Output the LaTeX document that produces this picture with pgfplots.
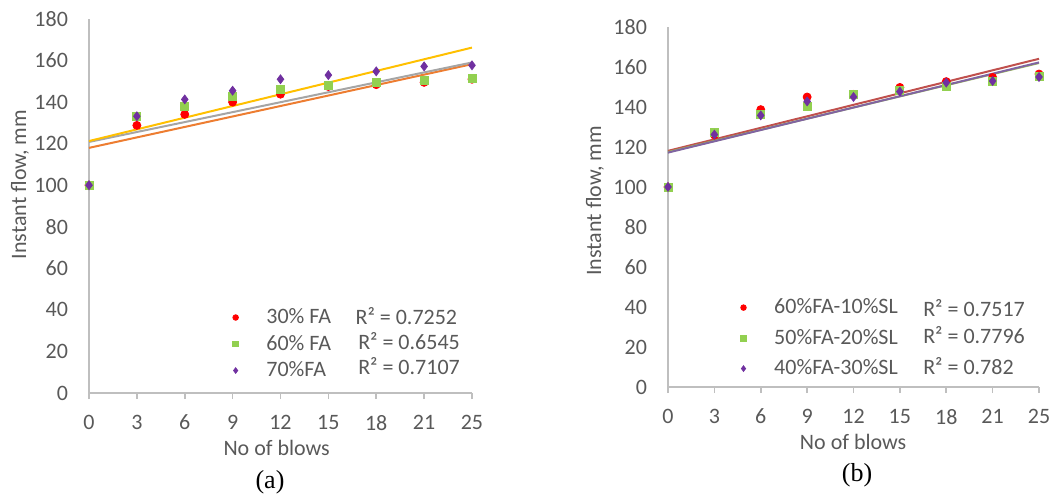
\documentclass[border=0pt]{standalone}
\usepackage{pgfplots}
\usepackage{pgfplotstable}
\pgfplotsset{compat=1.18}
\usepackage{fontspec}
\setmainfont{Carlito}
\newfontfamily\capfont{Liberation Serif}
\definecolor{txt}{HTML}{595959}
\definecolor{axl}{HTML}{BFBFBF}
\definecolor{mRed}{HTML}{FF0000}
\definecolor{mGreen}{HTML}{92D050}
\definecolor{mPurple}{HTML}{7030A0}
\definecolor{tOrange}{HTML}{ED7D31}
\definecolor{tGray}{HTML}{A5A5A5}
\definecolor{tYellow}{HTML}{FFC000}
\definecolor{tRed}{HTML}{C0504D}
\definecolor{tGreen}{HTML}{9BBB59}
\definecolor{tPurple}{HTML}{8064A2}

% x = category index (0..8), labels 0,3,...,21,25
\pgfplotstableread{
x  a      b      c
0  100.0  100.0  100.0
1  128.8  133.3  133.2
2  134.1  137.8  141.3
3  140.0  142.8  145.5
4  143.8  146.0  151.0
5  147.5  147.9  153.0
6  148.4  149.7  154.8
7  149.5  150.5  157.2
8  151.0  151.6  157.7
}\dataA
\pgfplotstableread{
x  a      b      c
0  100.0  100.0  100.0
1  126.0  127.5  126.2
2  138.7  136.2  135.8
3  145.0  140.5  142.8
4  146.3  146.2  145.0
5  149.8  148.5  147.7
6  152.7  150.5  152.2
7  154.8  153.0  153.0
8  156.5  155.2  155.0
}\dataB

\tikzset{rsq/.style={anchor=west, inner sep=0pt, text=txt, font=\fontsize{11}{13}\selectfont}}
\pgfplotsset{
  flowstyle/.style={
    scale only axis,
    xmin=0, xmax=8, ymin=0, ymax=180,
    axis lines=left,
    axis line style={draw=axl, line width=0.9pt, -},
    xtick={0,...,8},
    xticklabels={0,3,6,9,12,15,18,21,25},
    ytick={0,20,...,180},
    tick align=outside,
    major tick length=3pt,
    xtick style={draw=axl, line width=0.8pt},
    ytick style={draw=none},
    tick label style={font=\fontsize{11}{13}\selectfont, color=txt},
    xticklabel style={yshift=-4.5pt},
    yticklabel style={xshift=-4pt},
    /pgf/number format/assume math mode=true,
    label style={font=\fontsize{11}{13}\selectfont, color=txt},
    xlabel={No of blows},
    ylabel={Instant flow, mm},
    legend style={draw=none, fill=none, font=\fontsize{11}{13}\selectfont,
      text=txt, inner sep=0pt, row sep=1.25pt,
      nodes={inner sep=1.5pt, anchor=west}},
    legend cell align=left,
    legend image code/.code={\draw[##1, mark size=1.4pt] plot coordinates {(0cm,0cm)};
      \path (-0.1cm,0cm) (0.48cm,0cm);},
    clip=false,
  },
  trend/.style={line width=1pt, forget plot, mark=none},
  sRed/.style={only marks, mark=*, mark size=2pt, mRed},
  sGreen/.style={only marks, mark=square*, mark size=2pt, mGreen},
  sPurple/.style={only marks, mark=diamond*, mark size=2.2pt, mPurple},
}

\begin{document}
\begin{tikzpicture}
\path[use as bounding box] (0,0) rectangle (526.5pt,249pt);

\begin{axis}[flowstyle,
  at={(44.5pt,52.5pt)}, anchor=south west,
  width=191.5pt, height=187pt,
  xlabel style={at={(axis description cs:0.49,-0.147)}, anchor=center},
  ylabel style={at={(axis description cs:-0.18,0.557)}, anchor=center},
  legend style={at={(axis description cs:0.366,0.235)}, anchor=north west},
]
\addplot[trend, tOrange] table[x=x, y={create col/linear regression={y=a}}] {\dataA};
\addplot[trend, tGray] table[x=x, y={create col/linear regression={y=b}}] {\dataA};
\addplot[trend, tYellow] table[x=x, y={create col/linear regression={y=c}}] {\dataA};
\addplot[sRed] table[x=x, y=a] {\dataA};
\addplot[sGreen] table[x=x, y=b] {\dataA};
\addplot[sPurple] table[x=x, y=c] {\dataA};
\legend{30\% FA, 60\% FA, 70\%FA}
\node[rsq] at (axis description cs:0.695,0.206) {R² = 0.7252};
\node[rsq] at (axis description cs:0.702,0.139) {R² = 0.6545};
\node[rsq] at (axis description cs:0.702,0.072) {R² = 0.7107};
\end{axis}

\begin{axis}[flowstyle,
  at={(334pt,55.5pt)}, anchor=south west,
  width=185.5pt, height=180pt,
  xlabel style={at={(axis description cs:0.499,-0.152)}, anchor=center},
  ylabel style={at={(axis description cs:-0.197,0.517)}, anchor=center},
  legend style={at={(axis description cs:0.186,0.255)}, anchor=north west, row sep=3.25pt},
]
\addplot[trend, tRed] table[x=x, y={create col/linear regression={y=a}}] {\dataB};
\addplot[trend, tGreen] table[x=x, y={create col/linear regression={y=b}}] {\dataB};
\addplot[trend, tPurple] table[x=x, y={create col/linear regression={y=c}}] {\dataB};
\addplot[sRed] table[x=x, y=a] {\dataB};
\addplot[sGreen] table[x=x, y=b] {\dataB};
\addplot[sPurple] table[x=x, y=c] {\dataB};
\legend{60\%FA-10\%SL, 50\%FA-20\%SL, 40\%FA-30\%SL}
\node[rsq] at (axis description cs:0.687,0.219) {R² = 0.7517};
\node[rsq] at (axis description cs:0.687,0.143) {R² = 0.7796};
\node[rsq] at (axis description cs:0.687,0.058) {R² = 0.782};
\end{axis}

\node[font=\capfont\fontsize{13}{15}\selectfont] at (135pt,8pt) {(a)};
\node[font=\capfont\fontsize{13}{15}\selectfont] at (428.5pt,11.5pt) {(b)};
\end{tikzpicture}
\end{document}
